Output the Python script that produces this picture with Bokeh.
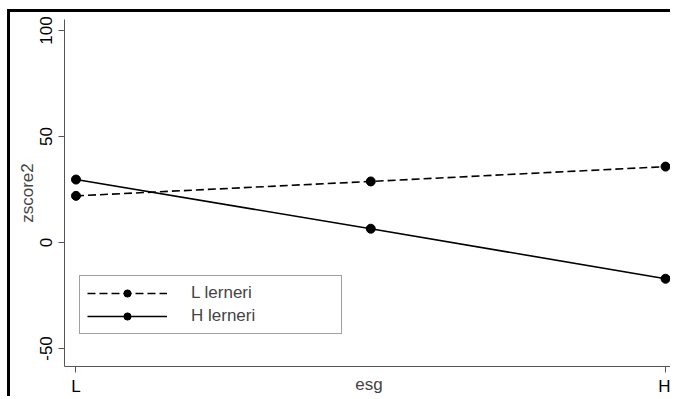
from bokeh.plotting import figure
from bokeh.models import FixedTicker, Range1d, Legend, LegendItem, InlineStyleSheet
from bokeh.embed import file_html
from bokeh.resources import INLINE

# Data
esg_positions = [0, 1, 2]
x_tick_positions = [0, 2]
x_tick_labels = ["L", "H"]
y_ticks = [-50, 0, 50, 100]
y_tick_labels = ["-50", "0", "50", "100"]
l_lerneri = [22.0, 28.8, 35.8]
h_lerneri = [29.7, 6.5, -17.1]
series_names = ["L lerneri", "H lerneri"]

FONT = "Liberation Sans"

p = figure(width=663, height=387, output_backend="svg", toolbar_location=None,
           x_range=Range1d(-0.039, 2.027), y_range=Range1d(-58.5, 105.2),
           min_border_left=54, min_border_top=7, min_border_bottom=33, min_border_right=0)
p.stylesheets = [InlineStyleSheet(css=":host { margin-left: 7px; margin-top: 9px; border-left: 3px solid black; border-top: 3px solid black; }")]
p.outline_line_color = None
p.grid.visible = False
p.background_fill_color = "white"
p.border_fill_color = "white"

r1 = p.line(esg_positions, l_lerneri, line_color="black", line_width=1.6, line_dash="8 4")
s1 = p.scatter(esg_positions, l_lerneri, size=9, color="black")
r2 = p.line(esg_positions, h_lerneri, line_color="black", line_width=1.6)
s2 = p.scatter(esg_positions, h_lerneri, size=9, color="black")

# axes
xa = p.xaxis[0]
xa.ticker = FixedTicker(ticks=x_tick_positions)
xa.major_label_overrides = {k: v for k, v in zip(x_tick_positions, x_tick_labels)}
xa.minor_tick_line_color = None
xa.major_tick_in = 0
xa.major_tick_out = 6
xa.major_label_standoff = 4
xa.axis_line_color = "#555555"
xa.major_tick_line_color = "#555555"
xa.major_label_text_font = FONT
xa.major_label_text_font_size = "17px"
xa.major_label_text_color = "black"
xa.axis_label = "esg"
xa.axis_label_text_font = FONT
xa.axis_label_text_font_size = "17px"
xa.axis_label_text_font_style = "normal"
xa.axis_label_standoff = -24

ya = p.yaxis[0]
ya.ticker = FixedTicker(ticks=y_ticks)
ya.major_label_overrides = {k: v for k, v in zip(y_ticks, y_tick_labels)}
ya.minor_tick_line_color = None
ya.major_tick_in = 0
ya.major_tick_out = 6
ya.major_label_standoff = 6
ya.major_label_orientation = "vertical"
ya.axis_line_color = "#555555"
ya.major_tick_line_color = "#555555"
ya.major_label_text_font = FONT
ya.major_label_text_font_size = "17px"
ya.major_label_text_color = "black"
ya.axis_label = "zscore2"
ya.axis_label_text_font = FONT
ya.axis_label_text_font_size = "17px"
ya.axis_label_text_font_style = "normal"
ya.axis_label_standoff = 1

legend = Legend(items=[LegendItem(label=series_names[0], renderers=[r1, s1]),
                       LegendItem(label=series_names[1], renderers=[r2, s2])],
                location=(15, 32), orientation="vertical",
                padding=7, spacing=3, margin=0,
                glyph_width=80, glyph_height=18, label_height=18,
                label_standoff=24, label_width=143,
                label_text_font=FONT, label_text_font_size="17px",
                border_line_color="#444444", border_line_width=1,
                background_fill_color="white", background_fill_alpha=1.0)
p.add_layout(legend, "center")

open("out.html", "w").write(file_html(p, INLINE))
